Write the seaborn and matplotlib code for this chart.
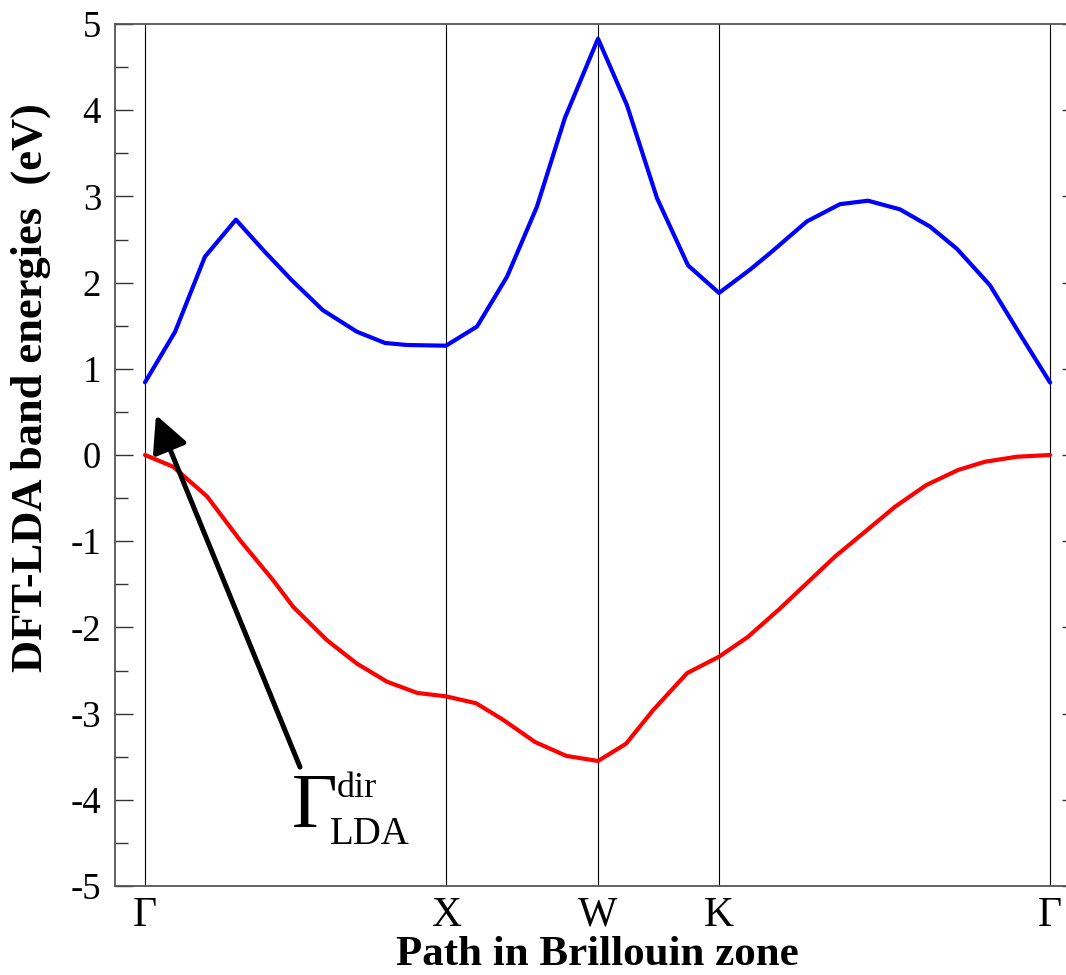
import matplotlib
matplotlib.use("Agg")
import matplotlib.pyplot as plt
import seaborn as sns
import pandas as pd
from matplotlib.ticker import MultipleLocator

# ---- data ----
sym_labels = ["Γ", "X", "W", "K", "Γ"]
sym_k = [0.0, 1.0, 1.505, 1.907, 3.007]

cond_k = [0, 0.100, 0.199, 0.302, 0.392, 0.487, 0.591, 0.704, 0.797, 0.870, 1.000,
          1.103, 1.203, 1.302, 1.395, 1.505, 1.601, 1.701, 1.804, 1.907, 2.010,
          2.076, 2.199, 2.309, 2.402, 2.508, 2.608, 2.698, 2.807, 2.907, 3.007]
cond_E = [0.843, 1.43, 2.30, 2.73, 2.38, 2.03, 1.68, 1.43, 1.30, 1.276, 1.268,
          1.49, 2.07, 2.88, 3.91, 4.83, 4.06, 2.98, 2.20, 1.88, 2.15,
          2.34, 2.71, 2.91, 2.95, 2.85, 2.65, 2.39, 1.97, 1.40, 0.84]

val_k = [0, 0.093, 0.206, 0.316, 0.425, 0.492, 0.605, 0.704, 0.804, 0.904, 1.000,
         1.100, 1.189, 1.296, 1.399, 1.505, 1.598, 1.688, 1.801, 1.907, 2.003,
         2.110, 2.216, 2.292, 2.399, 2.492, 2.595, 2.701, 2.791, 2.897, 3.007]
val_E = [0, -0.135, -0.48, -0.99, -1.45, -1.76, -2.15, -2.42, -2.63, -2.76, -2.80,
         -2.88, -3.07, -3.33, -3.49, -3.55, -3.35, -2.96, -2.53, -2.34, -2.11,
         -1.78, -1.43, -1.18, -0.87, -0.60, -0.35, -0.174, -0.078, -0.02, 0.0]

y_ticks = [5, 4, 3, 2, 1, 0, -1, -2, -3, -4, -5]
arrow_tip = (0.0365, 0.464)
arrow_tail = (0.515, -3.62)

# ---- style ----
sns.set_style("ticks")
plt.rcParams["font.family"] = ["Liberation Serif", "DejaVu Serif"]
plt.rcParams["text.color"] = "black"
plt.rcParams["xtick.color"] = "black"
plt.rcParams["ytick.color"] = "black"
plt.rcParams["axes.labelcolor"] = "black"

fig = plt.figure(figsize=(10.66, 9.75), dpi=100)
ax = fig.add_axes([115/1066, 1-886/975, 965/1066, 862/975])

cond = pd.DataFrame({"k": cond_k, "E": cond_E})
val = pd.DataFrame({"k": val_k, "E": val_E})
sns.lineplot(data=cond, x="k", y="E", ax=ax, color="#0000ff", lw=3.0, sort=False)
sns.lineplot(data=val, x="k", y="E", ax=ax, color="#ff0000", lw=3.0, sort=False)

for k in sym_k:
    ax.axvline(k, color="black", lw=0.8, zorder=1)

ax.set_xlim(-30/301, 935/301)
ax.set_ylim(-5, 5)
ax.set_xticks(sym_k)
ax.set_xticklabels(sym_labels, fontsize=30)
ax.set_yticks(y_ticks)
ax.set_yticklabels([str(v) for v in y_ticks], fontsize=26.5)
ax.yaxis.set_minor_locator(MultipleLocator(0.5))
ax.tick_params(axis="x", length=0, pad=7.5)
ax.tick_params(axis="y", which="major", direction="in", length=13, width=1.0,
               right=True, left=True, pad=10, color="#333333", labelcolor="black")
ax.tick_params(axis="y", which="minor", direction="in", length=9.5, width=1.0,
               right=True, left=True, color="#333333")
for s in ax.spines.values():
    s.set_color("#555555")
    s.set_linewidth(1.3)

ax.set_xlabel("Path in Brillouin zone", fontsize=31, fontweight="bold", labelpad=0,
              color="black")
ax.xaxis.set_label_coords(0.5, -0.058)
ax.set_ylabel("DFT-LDA band energies  (eV)", fontsize=32, fontweight="bold",
              color="black")
ax.yaxis.set_label_coords(-0.066, 0.578)

ax.annotate("", xy=arrow_tip, xytext=arrow_tail,
            arrowprops=dict(arrowstyle="-|>,head_length=1.1,head_width=0.55",
                            mutation_scale=20, color="black", lw=3.6,
                            shrinkA=0, shrinkB=0))
ax.text(0.488, -4.316, "Γ", fontsize=57, ha="left", va="baseline", color="black")
ax.text(0.638, -3.97, "dir", fontsize=26, ha="left", va="baseline", color="black")
ax.text(0.615, -4.51, "LDA", fontsize=28, ha="left", va="baseline", color="black")

fig.savefig("out.png", dpi=100)
